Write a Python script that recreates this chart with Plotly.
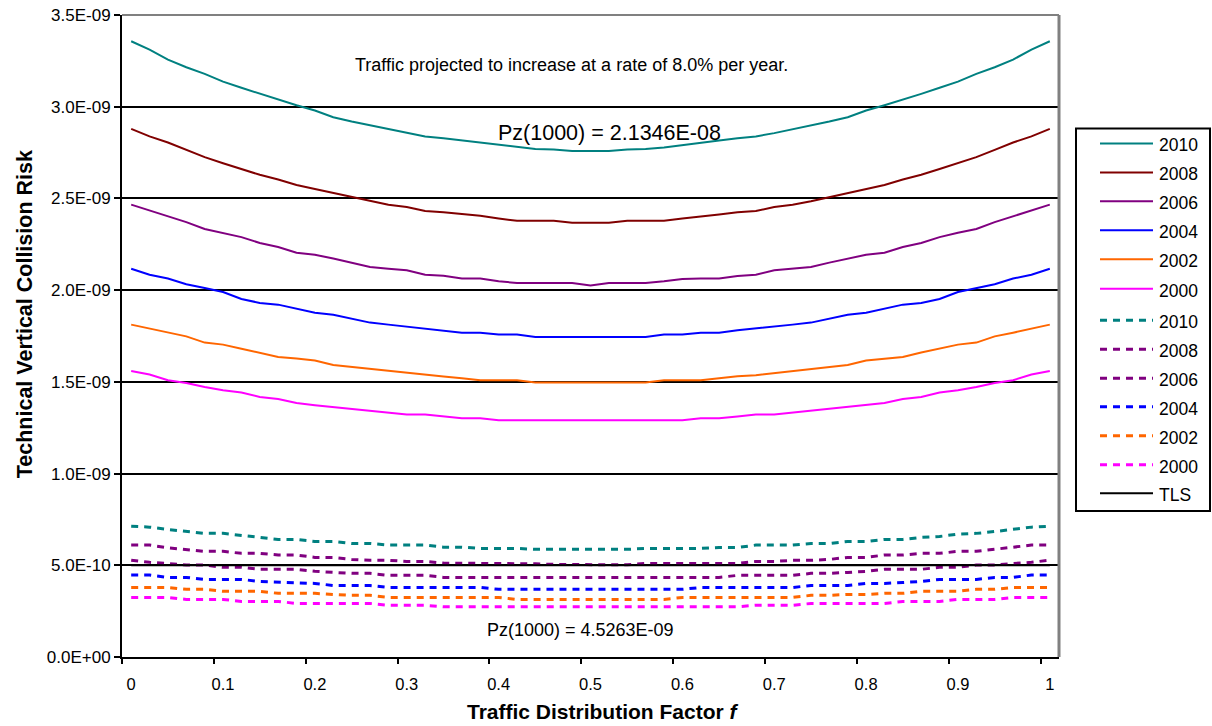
import plotly.graph_objects as go

# ---------------- data (risk values in units of 1E-09) ----------------
f_values = [0.00, 0.02, 0.04, 0.06, 0.08, 0.10, 0.12, 0.14, 0.16, 0.18,
            0.20, 0.22, 0.24, 0.26, 0.28, 0.30, 0.32, 0.34, 0.36, 0.38,
            0.40, 0.42, 0.44, 0.46, 0.48, 0.50, 0.52, 0.54, 0.56, 0.58,
            0.60, 0.62, 0.64, 0.66, 0.68, 0.70, 0.72, 0.74, 0.76, 0.78,
            0.80, 0.82, 0.84, 0.86, 0.88, 0.90, 0.92, 0.94, 0.96, 0.98, 1.00]

tech_2010 = [3.357, 3.311, 3.257, 3.215, 3.179, 3.137, 3.103, 3.070, 3.037, 3.008,
             2.979, 2.943, 2.919, 2.898, 2.876, 2.856, 2.838, 2.828, 2.816, 2.805,
             2.792, 2.780, 2.769, 2.767, 2.758, 2.758, 2.758, 2.767, 2.769, 2.778,
             2.792, 2.805, 2.816, 2.828, 2.838, 2.856, 2.876, 2.898, 2.919, 2.943,
             2.979, 3.008, 3.037, 3.070, 3.103, 3.137, 3.179, 3.215, 3.257, 3.311, 3.357]
tech_2008 = [2.879, 2.838, 2.805, 2.765, 2.725, 2.692, 2.660, 2.629, 2.603, 2.573,
             2.551, 2.529, 2.507, 2.485, 2.466, 2.453, 2.431, 2.425, 2.416, 2.406,
             2.391, 2.378, 2.378, 2.378, 2.367, 2.367, 2.367, 2.378, 2.378, 2.378,
             2.391, 2.404, 2.413, 2.424, 2.431, 2.453, 2.466, 2.485, 2.507, 2.529,
             2.551, 2.573, 2.603, 2.629, 2.660, 2.692, 2.725, 2.765, 2.805, 2.838, 2.879]
tech_2006 = [2.466, 2.435, 2.402, 2.371, 2.333, 2.313, 2.289, 2.257, 2.235, 2.204,
             2.193, 2.172, 2.150, 2.126, 2.117, 2.108, 2.084, 2.079, 2.064, 2.064,
             2.048, 2.039, 2.039, 2.039, 2.039, 2.026, 2.039, 2.039, 2.039, 2.048,
             2.061, 2.064, 2.064, 2.077, 2.084, 2.108, 2.117, 2.126, 2.150, 2.172,
             2.193, 2.204, 2.235, 2.257, 2.289, 2.313, 2.333, 2.371, 2.402, 2.435, 2.466]
tech_2004 = [2.117, 2.084, 2.063, 2.032, 2.012, 1.990, 1.952, 1.930, 1.921, 1.897,
             1.877, 1.866, 1.843, 1.823, 1.812, 1.801, 1.790, 1.779, 1.768, 1.768,
             1.758, 1.758, 1.745, 1.745, 1.745, 1.745, 1.745, 1.745, 1.745, 1.758,
             1.758, 1.768, 1.768, 1.781, 1.790, 1.801, 1.812, 1.823, 1.843, 1.866,
             1.877, 1.897, 1.921, 1.930, 1.952, 1.990, 2.012, 2.032, 2.063, 2.084, 2.117]
tech_2002 = [1.812, 1.790, 1.768, 1.748, 1.714, 1.703, 1.681, 1.660, 1.636, 1.627,
             1.616, 1.592, 1.581, 1.572, 1.559, 1.548, 1.536, 1.529, 1.520, 1.509,
             1.509, 1.509, 1.496, 1.496, 1.496, 1.496, 1.496, 1.496, 1.496, 1.509,
             1.509, 1.509, 1.520, 1.531, 1.536, 1.548, 1.559, 1.572, 1.581, 1.592,
             1.616, 1.627, 1.636, 1.660, 1.681, 1.703, 1.714, 1.748, 1.768, 1.790, 1.812]
tech_2000 = [1.559, 1.540, 1.509, 1.494, 1.472, 1.454, 1.442, 1.418, 1.407, 1.385,
             1.373, 1.363, 1.352, 1.344, 1.333, 1.322, 1.322, 1.311, 1.302, 1.302,
             1.291, 1.291, 1.291, 1.291, 1.291, 1.291, 1.291, 1.291, 1.291, 1.291,
             1.291, 1.302, 1.302, 1.311, 1.322, 1.322, 1.333, 1.344, 1.352, 1.363,
             1.373, 1.385, 1.407, 1.418, 1.442, 1.454, 1.472, 1.494, 1.509, 1.540, 1.559]

low_2010 = [0.713, 0.708, 0.695, 0.686, 0.674, 0.674, 0.663, 0.654, 0.641, 0.641,
            0.630, 0.630, 0.619, 0.619, 0.610, 0.610, 0.610, 0.599, 0.599, 0.592,
            0.592, 0.592, 0.587, 0.587, 0.587, 0.587, 0.587, 0.587, 0.592, 0.592,
            0.592, 0.592, 0.597, 0.597, 0.610, 0.610, 0.610, 0.619, 0.619, 0.630,
            0.630, 0.641, 0.641, 0.652, 0.657, 0.670, 0.674, 0.684, 0.695, 0.708, 0.713]
low_2008 = [0.610, 0.610, 0.595, 0.587, 0.576, 0.576, 0.565, 0.565, 0.556, 0.556,
            0.543, 0.543, 0.532, 0.527, 0.527, 0.521, 0.521, 0.512, 0.512, 0.512,
            0.512, 0.512, 0.508, 0.505, 0.503, 0.503, 0.503, 0.503, 0.510, 0.510,
            0.510, 0.510, 0.510, 0.510, 0.521, 0.521, 0.527, 0.527, 0.532, 0.543,
            0.543, 0.556, 0.556, 0.565, 0.565, 0.576, 0.576, 0.587, 0.595, 0.610, 0.610]
low_2006 = [0.528, 0.516, 0.510, 0.501, 0.501, 0.489, 0.489, 0.478, 0.478, 0.478,
            0.467, 0.461, 0.456, 0.456, 0.445, 0.445, 0.445, 0.434, 0.434, 0.434,
            0.434, 0.434, 0.434, 0.434, 0.434, 0.434, 0.434, 0.434, 0.434, 0.434,
            0.434, 0.434, 0.434, 0.445, 0.445, 0.445, 0.445, 0.456, 0.456, 0.461,
            0.467, 0.478, 0.478, 0.478, 0.489, 0.489, 0.501, 0.501, 0.510, 0.516, 0.528]
low_2004 = [0.447, 0.447, 0.434, 0.434, 0.423, 0.423, 0.423, 0.412, 0.408, 0.401,
            0.401, 0.390, 0.390, 0.390, 0.379, 0.379, 0.379, 0.379, 0.379, 0.379,
            0.369, 0.369, 0.369, 0.369, 0.369, 0.369, 0.369, 0.369, 0.369, 0.369,
            0.369, 0.379, 0.379, 0.379, 0.379, 0.379, 0.379, 0.390, 0.390, 0.390,
            0.401, 0.401, 0.406, 0.412, 0.423, 0.423, 0.423, 0.434, 0.434, 0.447, 0.447]
low_2002 = [0.379, 0.379, 0.379, 0.369, 0.369, 0.358, 0.358, 0.358, 0.347, 0.347,
            0.347, 0.341, 0.336, 0.336, 0.325, 0.325, 0.325, 0.325, 0.325, 0.325,
            0.325, 0.314, 0.314, 0.314, 0.314, 0.314, 0.314, 0.314, 0.314, 0.314,
            0.325, 0.325, 0.325, 0.325, 0.325, 0.325, 0.325, 0.336, 0.336, 0.341,
            0.341, 0.347, 0.347, 0.358, 0.358, 0.358, 0.369, 0.369, 0.379, 0.379, 0.379]
low_2000 = [0.325, 0.325, 0.325, 0.314, 0.314, 0.314, 0.303, 0.303, 0.303, 0.292,
            0.292, 0.292, 0.292, 0.292, 0.282, 0.282, 0.282, 0.274, 0.274, 0.274,
            0.274, 0.274, 0.274, 0.274, 0.274, 0.274, 0.274, 0.274, 0.274, 0.274,
            0.274, 0.274, 0.274, 0.274, 0.282, 0.282, 0.282, 0.292, 0.292, 0.292,
            0.292, 0.292, 0.303, 0.303, 0.303, 0.314, 0.314, 0.314, 0.325, 0.325, 0.325]

tls_value = 0.5  # target level of safety, 5.0E-10

y_tick_values = [0.0, 0.5, 1.0, 1.5, 2.0, 2.5, 3.0, 3.5]
y_tick_labels = ["0.0E+00", "5.0E-10", "1.0E-09", "1.5E-09", "2.0E-09", "2.5E-09", "3.0E-09", "3.5E-09"]
x_tick_values = [0.0, 0.1, 0.2, 0.3, 0.4, 0.5, 0.6, 0.7, 0.8, 0.9, 1.0]
x_tick_labels = ["0", "0.1", "0.2", "0.3", "0.4", "0.5", "0.6", "0.7", "0.8", "0.9", "1"]

SCALE = 1e-9
FONT = "Liberation Sans, Arial, sans-serif"

solid_series = [("2010", tech_2010, "#008080"), ("2008", tech_2008, "#800000"),
                ("2006", tech_2006, "#800080"), ("2004", tech_2004, "#0000FF"),
                ("2002", tech_2002, "#FF6600"), ("2000", tech_2000, "#FF00FF")]
dashed_series = [("2010", low_2010, "#008080"), ("2008", low_2008, "#800080"),
                 ("2006", low_2006, "#800080"), ("2004", low_2004, "#0000FF"),
                 ("2002", low_2002, "#FF6600"), ("2000", low_2000, "#FF00FF")]
DASH = "7px,6px"

for _, v, _ in solid_series + dashed_series:
    assert len(v) == len(f_values)

fig = go.Figure()
for name, vals, col in solid_series:
    fig.add_trace(go.Scatter(x=f_values, y=[v * SCALE for v in vals], mode="lines", name=name,
                             line=dict(color=col, width=2), showlegend=False))
for name, vals, col in dashed_series:
    fig.add_trace(go.Scatter(x=f_values, y=[v * SCALE for v in vals], mode="lines", name=name,
                             line=dict(color=col, width=3, dash=DASH), showlegend=False))
fig.add_trace(go.Scatter(x=f_values, y=[tls_value * SCALE] * len(f_values), mode="lines", name="TLS",
                         line=dict(color="black", width=2), showlegend=False, xaxis="x2"))

# plot area in pixels
L, R, T, B = 122, 1059, 14.5, 657
W, H = R - L, B - T


def px(x):
    return (x - L) / W


def py(y):
    return (B - y) / H


XR = [-0.01, 1.01]
fig.update_layout(
    width=1212, height=726,
    margin=dict(l=L, r=1212 - R, t=T, b=726 - B, autoexpand=False),
    paper_bgcolor="white", plot_bgcolor="white",
    font=dict(family=FONT, color="black", size=17),
    showlegend=False,
    xaxis=dict(range=XR, tickvals=x_tick_values, ticktext=x_tick_labels, ticks="",
               showgrid=False, zeroline=False, showline=True, linecolor="black", linewidth=2,
               tickfont=dict(size=16.5, family=FONT), ticklabelstandoff=11),
    xaxis2=dict(range=XR, overlaying="x", anchor="y", side="bottom",
                tickvals=[-0.01, 0.09, 0.19, 0.29, 0.39, 0.49, 0.59, 0.69, 0.79, 0.89, 0.99],
                ticks="outside", ticklen=6, tickwidth=2, tickcolor="black",
                showticklabels=False, showgrid=False, zeroline=False, showline=False),
    yaxis=dict(range=[0, 3.5 * SCALE], tickvals=[v * SCALE for v in y_tick_values], ticktext=y_tick_labels,
               ticks="outside", ticklen=6, tickwidth=2, tickcolor="black",
               showgrid=True, gridcolor="black", gridwidth=2, zeroline=False,
               showline=True, linecolor="black", linewidth=2,
               tickfont=dict(size=17, family=FONT)),
)

shapes = [
    dict(type="line", xref="paper", yref="paper", x0=0, x1=1, y0=1, y1=1,
         line=dict(color="#808080", width=2), layer="above"),
    dict(type="line", xref="paper", yref="paper", x0=1, x1=1, y0=0, y1=1,
         line=dict(color="#808080", width=3), layer="above"),
]

annotations = [
    dict(text="Traffic projected to increase at a rate of 8.0% per year.", x=px(571.5), y=py(65),
         xref="paper", yref="paper", showarrow=False, xanchor="center", yanchor="middle",
         font=dict(size=18, family=FONT)),
    dict(text="Pz(1000) = 2.1346E-08", x=px(609), y=py(133), xref="paper", yref="paper",
         showarrow=False, xanchor="center", yanchor="middle", font=dict(size=21.5, family=FONT)),
    dict(text="Pz(1000) = 4.5263E-09", x=px(580), y=py(630), xref="paper", yref="paper",
         showarrow=False, xanchor="center", yanchor="middle", font=dict(size=18, family=FONT)),
    dict(text="<b>Technical Vertical Collision Risk</b>", x=px(25), y=py(314), xref="paper", yref="paper",
         showarrow=False, textangle=-90, xanchor="center", yanchor="middle", font=dict(size=21.5, family=FONT)),
    dict(text="<b>Traffic Distribution Factor <i>f</i></b>", x=px(602.5), y=py(712), xref="paper", yref="paper",
         showarrow=False, xanchor="center", yanchor="middle", font=dict(size=21, family=FONT)),
]

# legend box (drawn as shapes + text)
shapes.append(dict(type="rect", xref="paper", yref="paper", x0=px(1076), x1=px(1210), y0=py(511), y1=py(128),
                   line=dict(color="black", width=2), fillcolor="white", layer="above"))
legend_entries = ([(n, c, "solid", 2) for n, _, c in solid_series] +
                  [(n, c, DASH, 3) for n, _, c in dashed_series] + [("TLS", "black", "solid", 2)])
legend_y = [145, 174, 203, 232, 261, 290.5, 322, 351, 380, 408.5, 437.5, 466.5, 495]
for (name, col, dash, w), yy in zip(legend_entries, legend_y):
    shapes.append(dict(type="line", xref="paper", yref="paper", x0=px(1100), x1=px(1153),
                       y0=py(yy - 2), y1=py(yy - 2), line=dict(color=col, width=w, dash=dash), layer="above"))
    annotations.append(dict(text=name, x=px(1157), y=py(yy), xref="paper", yref="paper", showarrow=False,
                            xanchor="left", yanchor="middle", font=dict(size=17.5, family=FONT)))

fig.update_layout(shapes=shapes, annotations=annotations)

fig.write_html("out.html", config={"displayModeBar": False},
               post_script="document.body.style.margin='0';")
